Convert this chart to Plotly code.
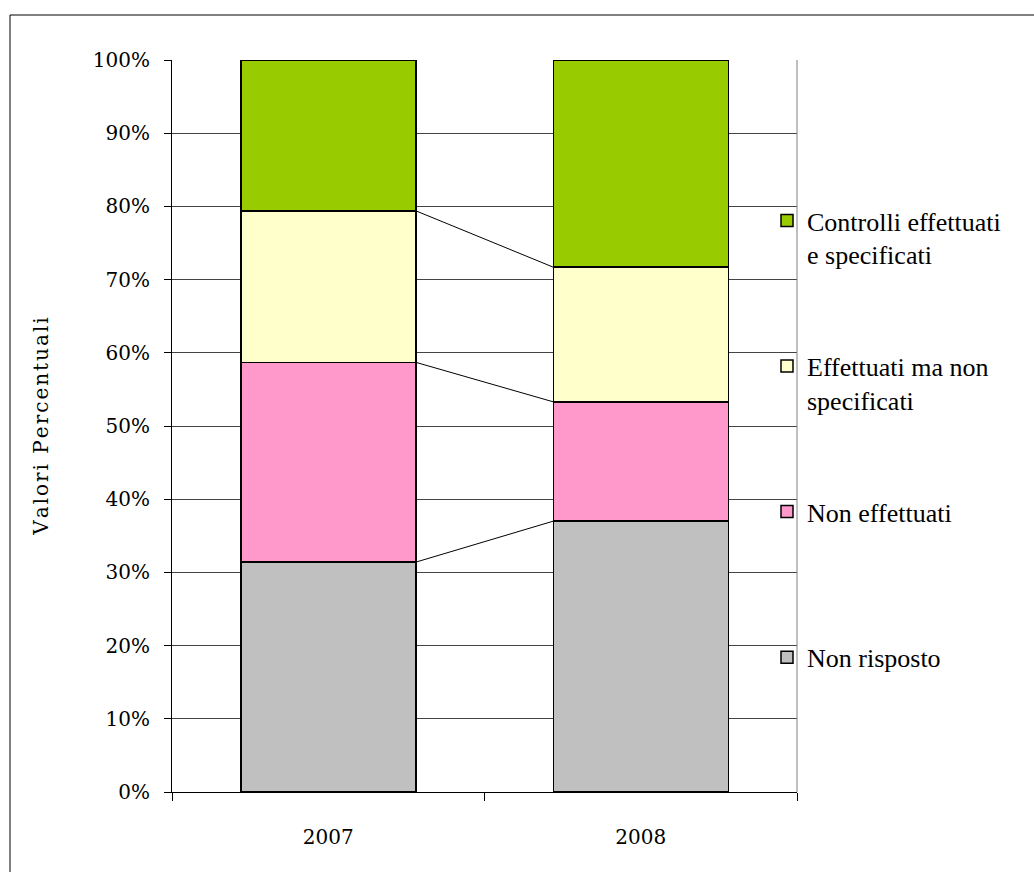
import plotly.graph_objects as go

# Categories and stacked shares (percent of responses)
years = ["2007", "2008"]
non_risposto = [31.4, 37.0]
non_effettuati = [27.3, 16.3]
effettuati_non_spec = [20.7, 18.4]
controlli_spec = [20.6, 28.3]
y_ticks = list(range(0, 101, 10))
y_tick_labels = [f"{v}%" for v in y_ticks]
y_title = "Valori Percentuali"

# Legend names; single-line entries get a blank second line so every
# legend row has the same height
series = [
    ("Non risposto<br> ", non_risposto, "#C0C0C0"),
    ("Non effettuati<br> ", non_effettuati, "#FF99CC"),
    ("Effettuati ma non<br>specificati", effettuati_non_spec, "#FFFFCC"),
    ("Controlli effettuati<br>e specificati", controlli_spec, "#99CC00"),
]

BAR_WIDTH = 0.56
x_pos = list(range(len(years)))

fig = go.Figure()

cumulative = [0.0] * len(years)
tops = []
for i, (name, vals, color) in enumerate(series):
    fig.add_trace(go.Bar(
        x=x_pos, y=vals, name=name, width=BAR_WIDTH,
        marker=dict(color=color, line=dict(color="black", width=1.5)),
        legendgroup=f"g{i}", legendrank=100 * (len(series) - i),
    ))
    cumulative = [c + v for c, v in zip(cumulative, vals)]
    tops.append(list(cumulative))

# Series lines joining the stack boundaries between adjacent bars
for t in tops[:-1]:
    fig.add_trace(go.Scatter(
        x=[x_pos[0] + BAR_WIDTH / 2, x_pos[1] - BAR_WIDTH / 2], y=t,
        mode="lines", line=dict(color="black", width=1),
        showlegend=False, hoverinfo="skip",
    ))

W, H = 1034, 872
L, R, T, B = 172, 237, 60, 80
pw, ph = W - L - R, H - T - B

fig.update_layout(
    width=W, height=H, barmode="stack",
    margin=dict(l=L, r=R, t=T, b=B),
    paper_bgcolor="white", plot_bgcolor="white",
    font=dict(family="DejaVu Serif", color="black"),
    showlegend=True,
    legend=dict(
        x=(767 - L) / pw, y=(792 - 197) / ph, xanchor="left", yanchor="top",
        font=dict(family="Liberation Serif", size=26, color="black"),
        tracegroupgap=75, valign="top", traceorder="grouped",
        bgcolor="rgba(0,0,0,0)",
    ),
    xaxis=dict(
        range=[-0.5, 1.5], tickmode="array", tickvals=x_pos, ticktext=years,
        ticks="", showgrid=False, zeroline=False,
        showline=True, linecolor="black", linewidth=1,
        tickfont=dict(family="DejaVu Serif", size=20),
        ticklabelstandoff=27,
        minor=dict(tickmode="array", tickvals=[-0.5, 0.5, 1.5], ticks="outside",
                   ticklen=8, tickcolor="black", tickwidth=1, showgrid=False),
    ),
    yaxis=dict(
        range=[0, 100], tickmode="array", tickvals=y_ticks, ticktext=y_tick_labels,
        ticks="outside", ticklen=7, tickcolor="black", ticklabelstandoff=10,
        showgrid=True, gridcolor="#444444", gridwidth=1, zeroline=False,
        showline=True, linecolor="black", linewidth=1,
        tickfont=dict(family="DejaVu Serif", size=20),
        title=dict(text="\u200a".join(y_title),
                   font=dict(family="DejaVu Serif", size=20), standoff=38),
    ),
    shapes=[
        # right border of the plot area
        dict(type="line", xref="paper", yref="paper", x0=1, x1=1, y0=0, y1=1,
             line=dict(color="#808080", width=1)),
        # outer chart frame
        dict(type="rect", xref="paper", yref="paper",
             x0=(10 - L) / pw, x1=(W + 20 - L) / pw,
             y0=-(H + 20 - (T + ph)) / ph, y1=1 + (T - 15) / ph,
             line=dict(color="black", width=1), layer="below"),
    ],
)

fig.write_html("out.html")
